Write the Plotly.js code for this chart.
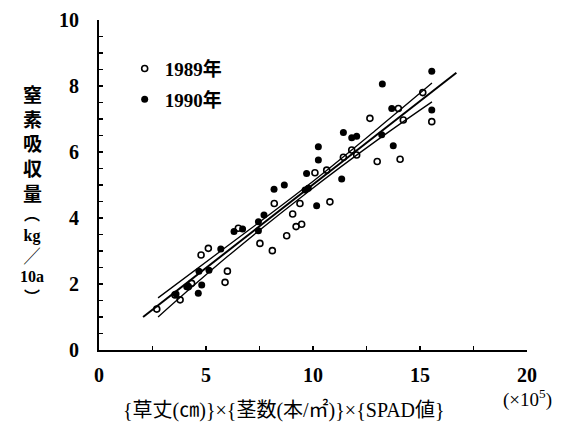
<!DOCTYPE html>
<html>
<head>
<meta charset="utf-8">
<script src="https://cdn.plot.ly/plotly-3.0.1.min.js"></script>
<style>html,body{margin:0;padding:0;background:#fff;}#chart{width:562px;height:427px;}</style>
</head>
<body>
<div id="chart"></div>
<script>
// 1989 (open circles)
const x1989 = [15.55, 15.13, 13.99, 14.22, 14.07, 13.0, 12.66, 11.42, 11.81, 12.04, 10.64, 10.79, 10.09, 9.39, 9.05, 9.47, 9.21, 8.77, 8.19, 8.10, 7.52, 6.51, 6.0, 5.89, 5.11, 4.77, 4.33, 4.17, 3.79, 3.55, 2.70];
const y1989 = [6.92, 7.80, 7.32, 6.97, 5.78, 5.71, 7.02, 5.84, 6.06, 5.91, 5.45, 4.49, 5.37, 4.44, 4.12, 3.81, 3.74, 3.46, 4.44, 3.01, 3.23, 3.69, 2.39, 2.05, 3.08, 2.88, 2.02, 1.92, 1.52, 1.67, 1.24];
// 1990 (filled circles)
const x1990 = [15.55, 15.55, 13.24, 13.68, 13.75, 13.21, 11.42, 11.81, 12.04, 11.34, 10.25, 10.25, 9.70, 10.17, 9.78, 9.63, 8.66, 8.18, 7.71, 7.45, 7.45, 6.71, 6.31, 5.69, 5.14, 4.67, 4.80, 4.64, 4.10, 3.60];
const y1990 = [8.45, 7.27, 8.06, 7.32, 6.19, 6.52, 6.59, 6.43, 6.48, 5.18, 6.16, 5.76, 5.35, 4.37, 4.90, 4.85, 5.00, 4.87, 4.09, 3.89, 3.61, 3.67, 3.59, 3.06, 2.42, 2.39, 1.97, 1.72, 1.92, 1.70];
// regression line and confidence band
const regX = [2.06, 16.7];
const regY = [1.0, 8.4];
const bandX = [2.76, 6.0, 9.7, 13.0, 15.56];
const bandUpper = [1.58, 3.15, 4.96, 6.70, 8.09];
const bandLower = [1.00, 2.83, 4.76, 6.36, 7.52];
const legendNames = ['1989年', '1990年'];
const xTitle = '{草丈(㎝)}×{茎数(本/㎡)}×{SPAD値}';
const yTitleMain = ['窒', '素', '吸', '収', '量'];
const yTitleUnit = ['︵', 'kg', '╱', '10a', '︶'];

const serif = 'Liberation Serif, DejaVu Serif, Noto Sans CJK JP, serif';
const cjk = 'Noto Sans CJK JP, sans-serif';

const traces = [
  {x: regX, y: regY, mode: 'lines', line: {color: '#000', width: 2}, showlegend: false, hoverinfo: 'skip'},
  {x: bandX, y: bandUpper, mode: 'lines', line: {color: '#000', width: 1.3, shape: 'spline'}, showlegend: false},
  {x: bandX, y: bandLower, mode: 'lines', line: {color: '#000', width: 1.3, shape: 'spline'}, showlegend: false},
  {x: x1989, y: y1989, mode: 'markers', name: legendNames[0], legendgroup: 'a',
   marker: {symbol: 'circle-open', size: 6, color: '#000', line: {width: 1.6, color: '#000'}}},
  {x: x1990, y: y1990, mode: 'markers', name: legendNames[1], legendgroup: 'b',
   marker: {symbol: 'circle', size: 7, color: '#000'}}
];

const layout = {
  width: 562, height: 427,
  margin: {l: 99, r: 35, t: 20, b: 77},
  paper_bgcolor: '#fff', plot_bgcolor: '#fff',
  showlegend: true,
  legend: {x: 0.06, y: 0.91, xanchor: 'left', yanchor: 'top', bgcolor: 'rgba(0,0,0,0)',
           font: {family: serif, size: 19, color: '#000', weight: 'bold'},
           traceorder: 'grouped', tracegroupgap: 3, itemwidth: 30},
  xaxis: {range: [0, 20], dtick: 5, tick0: 0, showgrid: false, zeroline: false,
          showline: true, linecolor: '#000', linewidth: 2,
          ticks: 'inside', ticklen: 4, tickwidth: 1.5, tickcolor: '#000',
          minor: {dtick: 2.5, ticks: 'inside', ticklen: 4, tickwidth: 1.5, tickcolor: '#000', showgrid: false},
          tickfont: {family: serif, size: 20, color: '#000', weight: 'bold'},
          ticklabelstandoff: 6},
  yaxis: {range: [0, 10], dtick: 2, tick0: 0, showgrid: false, zeroline: false,
          showline: true, linecolor: '#000', linewidth: 2,
          ticks: 'inside', ticklen: 4, tickwidth: 1.5, tickcolor: '#000',
          minor: {dtick: 0.5, ticks: 'inside', ticklen: 4, tickwidth: 1.5, tickcolor: '#000', showgrid: false},
          tickfont: {family: serif, size: 20, color: '#000', weight: 'bold'},
          ticklabelstandoff: 14},
  annotations: [
    {text: xTitle, xref: 'paper', yref: 'paper', x: 0.432, y: -60/330, xanchor: 'center', yanchor: 'middle',
     showarrow: false, font: {family: 'Liberation Serif, Noto Sans CJK JP, serif', size: 20, color: '#000'}},
    {text: '(×10<sup>5</sup>)', xref: 'paper', yref: 'paper', x: 1.0, y: -48/330, xanchor: 'center', yanchor: 'middle',
     showarrow: false, font: {family: serif, size: 19, color: '#000'}},
    {text: yTitleMain.join('<br>'), xref: 'paper', yref: 'paper', x: -67/428, y: 1 - 123/330, xanchor: 'center', yanchor: 'middle',
     showarrow: false, font: {family: cjk, size: 19, color: '#000', weight: 'bold'}},
    {text: yTitleUnit.join('<br>'), xref: 'paper', yref: 'paper', x: -67/428, y: 1 - 236/330, xanchor: 'center', yanchor: 'middle',
     showarrow: false, font: {family: 'Liberation Serif, Noto Sans CJK JP, serif', size: 16, color: '#000', weight: 'bold'}}
  ]
};

Plotly.newPlot('chart', traces, layout, {displayModeBar: false, staticPlot: true});
</script>
</body>
</html>
